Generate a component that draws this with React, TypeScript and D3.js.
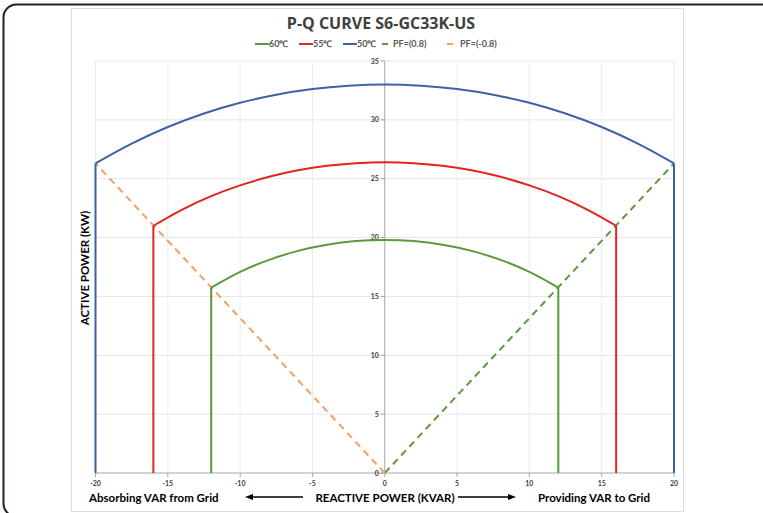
import React from 'react';
import * as d3 from 'd3';

// ---- data ----
const xTicks = [-20, -15, -10, -5, 0, 5, 10, 15, 20];
const yTicks = [0, 5, 10, 15, 20, 25, 30, 35];

const q50 = [-20, -17.5, -15, -12.5, -10, -7.5, -5, -2.5, 0, 2.5, 5, 7.5, 10, 12.5, 15, 17.5, 20];
const p50 = [26.3, 27.98, 29.39, 30.54, 31.45, 32.14, 32.62, 32.9, 33.0, 32.9, 32.62, 32.14, 31.45, 30.54, 29.39, 27.98, 26.3];
const q55 = [-16, -14, -12, -10, -8, -6, -4, -2, 0, 2, 4, 6, 8, 10, 12, 14, 16];
const p55 = [21.0, 22.38, 23.52, 24.43, 25.16, 25.71, 26.1, 26.32, 26.4, 26.32, 26.1, 25.71, 25.16, 24.43, 23.52, 22.38, 21.0];
const q60 = [-12, -10, -8, -6, -4, -2, 0, 2, 4, 6, 8, 10, 12];
const p60 = [15.75, 17.09, 18.11, 18.87, 19.39, 19.7, 19.8, 19.7, 19.39, 18.87, 18.11, 17.09, 15.75];
const qPFpos = [0, 20];
const pPFpos = [0, 26.3];
const qPFneg = [0, -20];
const pPFneg = [0, 26.3];

const seriesNames = ['60\u2103', '55\u2103', '50\u2103', 'PF=(0.8)', 'PF=(-0.8)'];

const C_GREEN = '#5b9a3c';
const C_RED = '#e3231f';
const C_BLUE = '#3d62a6';
const C_ORANGE = '#f0a064';
const FONT = "Lato, 'Open Sans', sans-serif";

export default function App() {
  const W = 763, H = 513;
  const x = d3.scaleLinear().domain([-20, 20]).range([95.5, 674]);
  const y = d3.scaleLinear().domain([0, 35]).range([473, 61]);

  const arc = d3.line<[number, number]>().x(d => x(d[0])).y(d => y(d[1])).curve(d3.curveMonotoneX);
  const lin = d3.line<[number, number]>().x(d => x(d[0])).y(d => y(d[1]));

  const zip = (qs: number[], ps: number[]) => qs.map((q, i) => [q, ps[i]] as [number, number]);

  const curves = [
    { q: q60, p: p60, c: C_GREEN },
    { q: q55, p: p55, c: C_RED },
    { q: q50, p: p50, c: C_BLUE },
  ];

  const legendItems = [
    { lx: 255, lw: 14, tx: 269, c: C_GREEN },
    { lx: 299, lw: 14, tx: 313, c: C_RED },
    { lx: 343, lw: 14, tx: 357, c: C_BLUE },
    { lx: 382, lw: 6, tx: 393, c: C_GREEN },
    { lx: 447, lw: 6, tx: 460, c: C_ORANGE },
  ];

  return (
    <svg width={W} height={H} style={{ position: 'absolute', left: 0, top: 0, background: '#fff' }}>
      {/* outer rounded frame */}
      <rect x={3.5} y={4.5} width={800} height={512} rx={13} fill="none" stroke="#2a1f1c" strokeWidth={2} />
      {/* chart area */}
      <rect x={71.5} y={8.5} width={612} height={503} fill="#fff" stroke="#dcdcdc" strokeWidth={1} />

      {/* gridlines */}
      {yTicks.filter(t => t > 0).map(t => (
        <line key={'gy' + t} x1={x(-20)} x2={x(20)} y1={y(t)} y2={y(t)} stroke="#e6e6e6" strokeWidth={1} />
      ))}
      {xTicks.filter(t => t !== 0).map(t => (
        <line key={'gx' + t} x1={x(t)} x2={x(t)} y1={y(35)} y2={y(0)} stroke="#ececec" strokeWidth={1} />
      ))}

      {/* axes */}
      <line x1={x(-20)} x2={x(20)} y1={y(0)} y2={y(0)} stroke="#a6a6a6" strokeWidth={1} />
      <line x1={x(0)} x2={x(0)} y1={y(35)} y2={y(0)} stroke="#a6a6a6" strokeWidth={1} />
      {xTicks.map(t => (
        <g key={'xt' + t}>
          <line x1={x(t)} x2={x(t)} y1={y(0)} y2={y(0) + 4} stroke="#a6a6a6" />
          <text x={x(t)} y={486} textAnchor="middle" fontSize={7} fontWeight="bold" fill="#404040" fontFamily={FONT}>{t}</text>
        </g>
      ))}
      {yTicks.map(t => (
        <g key={'yt' + t}>
          <line x1={x(0) - 4} x2={x(0)} y1={y(t)} y2={y(t)} stroke="#a6a6a6" />
          <text x={x(0) - 6} y={y(t) + 2.5} textAnchor="end" fontSize={7} fontWeight="bold" fill="#404040" fontFamily={FONT}>{t}</text>
        </g>
      ))}

      {/* PF lines */}
      <path d={lin(zip(qPFpos, pPFpos)) || ''} fill="none" stroke={C_GREEN} strokeWidth={2} strokeDasharray="7,5" />
      <path d={lin(zip(qPFneg, pPFneg)) || ''} fill="none" stroke={C_ORANGE} strokeWidth={2} strokeDasharray="7,5" />

      {/* temperature curves */}
      {curves.map((s, i) => {
        const pts = zip(s.q, s.p);
        const first = pts[0], last = pts[pts.length - 1];
        return (
          <g key={'c' + i}>
            <path d={arc(pts) || ''} fill="none" stroke={s.c} strokeWidth={2} />
            <path d={lin([[first[0], 0], first]) || ''} fill="none" stroke={s.c} strokeWidth={2} />
            <path d={lin([last, [last[0], 0]]) || ''} fill="none" stroke={s.c} strokeWidth={2} />
          </g>
        );
      })}

      {/* title */}
      <text x={381} y={29} textAnchor="middle" fontSize={16} fontWeight="bold" fill="#404040" fontFamily="'Open Sans', sans-serif">P-Q CURVE S6-GC33K-US</text>

      {/* legend */}
      {legendItems.map((l, i) => (
        <g key={'lg' + i}>
          <line x1={l.lx} x2={l.lx + l.lw} y1={44} y2={44} stroke={l.c} strokeWidth={2} />
          <text x={l.tx} y={47} fontSize={9} fontWeight="bold" fill="#595959" fontFamily={FONT}>{seriesNames[i]}</text>
        </g>
      ))}

      {/* axis titles */}
      <text transform="translate(89,268) rotate(-90)" textAnchor="middle" fontSize={11.5} fontWeight="bold" fill="#000" fontFamily={FONT}>ACTIVE POWER (KW)</text>
      <text x={385} y={502} textAnchor="middle" fontSize={11.5} fontWeight="bold" fill="#000" fontFamily={FONT}>REACTIVE POWER (KVAR)</text>
      <text x={89} y={502} fontSize={11.5} fontWeight="bold" fill="#000" fontFamily={FONT}>Absorbing VAR from Grid</text>
      <text x={538} y={502} fontSize={11.5} fontWeight="bold" fill="#000" fontFamily={FONT}>Providing VAR to Grid</text>

      {/* arrows */}
      <line x1={252} x2={303} y1={497} y2={497} stroke="#000" strokeWidth={1.5} />
      <polygon points="245,497 253,494 253,500" fill="#000" />
      <line x1={458} x2={509} y1={497} y2={497} stroke="#000" strokeWidth={1.5} />
      <polygon points="516,497 508,494 508,500" fill="#000" />
    </svg>
  );
}
